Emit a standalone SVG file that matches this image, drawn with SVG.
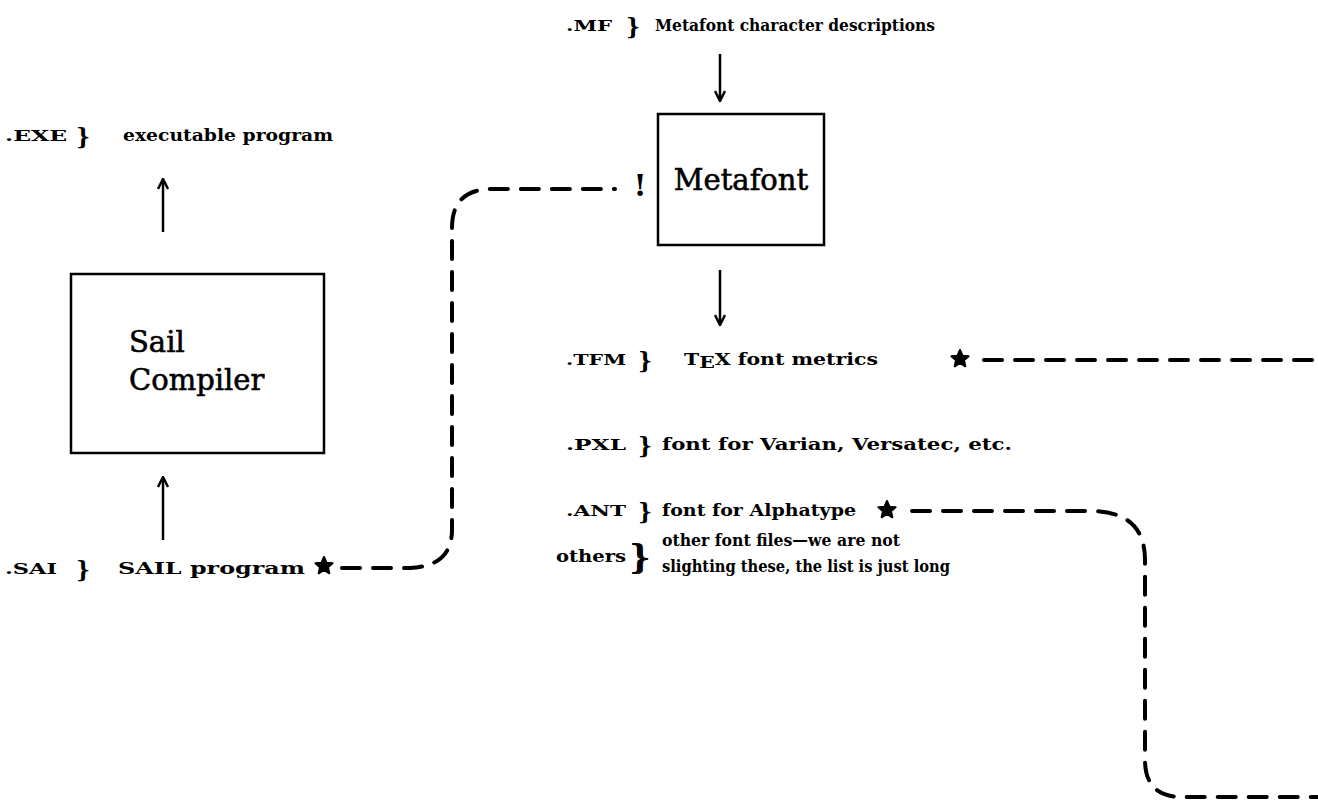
<svg xmlns="http://www.w3.org/2000/svg" width="1318" height="803" viewBox="0 0 1318 803">
<defs>
<style>
.t{font-family:"DejaVu Serif","Liberation Serif",serif;font-weight:bold;font-size:17px;fill:#000}
.ext{font-family:"DejaVu Serif","Liberation Serif",serif;font-weight:bold;font-size:15px;fill:#000}
.br{font-family:"DejaVu Serif","Liberation Serif",serif;font-weight:bold;font-size:22px;fill:#000}
.big{font-family:"DejaVu Serif","Liberation Serif",serif;font-size:29px;fill:#000;stroke:#000;stroke-width:0.6}
.box{fill:none;stroke:#000;stroke-width:2.5}
.arr{stroke:#000;stroke-width:2.5;fill:none}
.dash{stroke:#000;stroke-width:4;fill:none;stroke-dasharray:18 13;stroke-linecap:round}
</style>
<marker id="ah" viewBox="0 0 12 12" refX="10" refY="6" markerWidth="12" markerHeight="12" markerUnits="userSpaceOnUse" orient="auto">
<path d="M1 1 L11 6 L1 11" fill="none" stroke="#000" stroke-width="2.5"/>
</marker>
<path id="star" d="M0,-9 L2.6,-3.2 L8.6,-2.8 L4,1.2 L5.3,7.3 L0,4 L-5.3,7.3 L-4,1.2 L-8.6,-2.8 L-2.6,-3.2 Z" fill="#000" stroke="#000" stroke-width="2" stroke-linejoin="round"/>
</defs>
<rect width="1318" height="803" fill="#fff"/>

<g id="connectors">
<line class="arr" x1="163" y1="232" x2="163" y2="180" marker-end="url(#ah)"/>
<line class="arr" x1="163" y1="540" x2="163" y2="478" marker-end="url(#ah)"/>
<line class="arr" x1="720" y1="54" x2="720" y2="100" marker-end="url(#ah)"/>
<line class="arr" x1="720" y1="270" x2="720" y2="324" marker-end="url(#ah)"/>
<path class="dash" d="M342 568 H410 Q452 566 452 530 V228 Q452 189 492 189 H615"/>
<path class="dash" d="M984 360 H1318"/>
<path class="dash" d="M912 511 H1090 Q1145 511 1145 560 V760 Q1145 797 1182 797 H1318"/>
</g>

<g id="node-exe">
<text class="ext" x="5" y="141" textLength="62" lengthAdjust="spacingAndGlyphs">.EXE</text>
<text class="br" x="76" y="144">}</text>
<text class="t" x="123" y="141" textLength="210" lengthAdjust="spacingAndGlyphs">executable program</text>
</g>

<g id="node-sail">
<rect class="box" x="71" y="274" width="253" height="179"/>
<text class="big" x="129" y="352">Sail</text>
<text class="big" x="129" y="390">Compiler</text>
</g>

<g id="node-sai">
<text class="ext" x="5" y="574" textLength="52" lengthAdjust="spacingAndGlyphs">.SAI</text>
<text class="br" x="76" y="577">}</text>
<text class="t" x="118" y="574" textLength="187" lengthAdjust="spacingAndGlyphs">SAIL program</text>
<use href="#star" x="324" y="566"/>
</g>

<g id="node-mf">
<text class="ext" x="566" y="31" textLength="46" lengthAdjust="spacingAndGlyphs">.MF</text>
<text class="br" x="626" y="34">}</text>
<text class="t" x="655" y="31" textLength="280" lengthAdjust="spacingAndGlyphs">Metafont character descriptions</text>
</g>

<g id="node-metafont">
<text x="640" y="196" style="font-family:'DejaVu Serif',serif;font-weight:bold;font-size:30px" text-anchor="middle">!</text>
<rect class="box" x="658" y="114" width="166" height="131"/>
<text class="big" x="741" y="190" text-anchor="middle">Metafont</text>
</g>

<g id="node-tfm">
<text class="ext" x="566" y="365" textLength="60" lengthAdjust="spacingAndGlyphs">.TFM</text>
<text class="br" x="638" y="368">}</text>
<text class="t" x="684" y="365" textLength="194" lengthAdjust="spacingAndGlyphs">T<tspan dy="3">E</tspan><tspan dy="-3">X font metrics</tspan></text>
<use href="#star" x="960" y="359"/>
</g>

<g id="node-pxl">
<text class="ext" x="566" y="450" textLength="60" lengthAdjust="spacingAndGlyphs">.PXL</text>
<text class="br" x="638" y="453">}</text>
<text class="t" x="662" y="450" textLength="350" lengthAdjust="spacingAndGlyphs">font for Varian, Versatec, etc.</text>
</g>

<g id="node-ant">
<text class="ext" x="566" y="516" textLength="60" lengthAdjust="spacingAndGlyphs">.ANT</text>
<text class="br" x="638" y="519">}</text>
<text class="t" x="662" y="516" textLength="194" lengthAdjust="spacingAndGlyphs">font for Alphatype</text>
<use href="#star" x="887" y="510"/>
</g>

<g id="node-others">
<text class="t" x="556" y="562" style="font-size:16px" textLength="70" lengthAdjust="spacingAndGlyphs">others</text>
<text class="br" x="629" y="569" style="font-size:34px">}</text>
<text class="t" x="662" y="546" style="font-size:16px" textLength="238" lengthAdjust="spacingAndGlyphs">other font files—we are not</text>
<text class="t" x="662" y="572" style="font-size:16px" textLength="288" lengthAdjust="spacingAndGlyphs">slighting these, the list is just long</text>
</g>
</svg>
